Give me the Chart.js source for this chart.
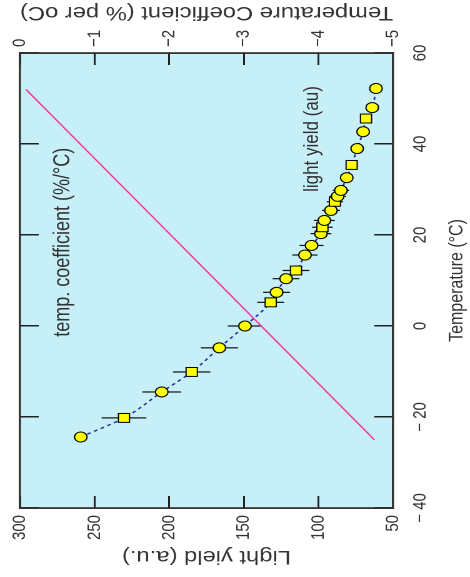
<!DOCTYPE html>
<html>
<head>
<meta charset="utf-8">
<script src="https://cdn.jsdelivr.net/npm/chart.js@4.4.1/dist/chart.umd.min.js"></script>
<style>
  html, body { margin: 0; padding: 0; background: #fff; }
  body { width: 470px; height: 577px; position: relative; overflow: hidden; }
  /* the figure is drawn upright, then turned a quarter turn to the left (and a bit wider) like the scan */
  #wrap {
    position: absolute; left: 0; top: 0;
    width: 577px; height: 376px;
    transform-origin: 0 0;
    transform: matrix(0, -1, 1.25, 0, 0, 577);
  }
</style>
</head>
<body>
<div id="wrap"><canvas id="bieuDo" width="577" height="376"></canvas></div>
<script>
// nhiệt độ (°C) của từng điểm đo
const nhietDo = [-24.4, -20.2, -14.5, -10.1, -4.8, 0.0, 5.2, 7.4, 10.4, 12.2, 15.6, 17.7, 20.3,
    21.7, 23.2, 25.4, 27.3, 28.5, 29.8, 32.6, 35.4, 39.0, 42.7, 45.6, 48.0, 52.2];
// light yield (a.u.)
const lightYield = [259.3, 230.3, 205.0, 184.9, 166.4, 149.2, 132.0, 128.0, 121.7, 115.0, 109.0, 104.6, 98.3,
    97.3, 96.0, 91.6, 88.9, 87.1, 84.9, 81.0, 77.7, 74.0, 70.0, 68.1, 63.9, 61.4];
// sai số (a.u.)
const saiSo = [0, 15, 13, 12.5, 12.5, 11.5, 9, 9, 9, 9, 8.5, 8, 7,
    7, 7, 6, 5.5, 5.5, 5.5, 4.5, 4, 4, 3, 3, 0, 0];
// đường hệ số nhiệt độ (% per °C)
const heSoNhietDo = [-25, 52];
const heSoGiaTri = [-4.75, -0.08];

// tick labels
const tickNhietDo = [-40, -20, 0, 20, 40, 60];
const tickYield = [50, 100, 150, 200, 250, 300];
const tickHeSo = [-5, -4, -3, -2, -1, 0];

// điểm nào vẽ hình vuông
const diemVuong = [1, 3, 6, 9, 13, 16, 20, 23];

const FONT = "'Liberation Sans', Arial, Helvetica, sans-serif";
const MAU_CHU = "#333";
const minus = (v) => "\u2212" + Math.abs(v);

// nền xanh của vùng vẽ
const nenVung = {
    id: "nenVung",
    beforeDraw(chart) {
        const { ctx, chartArea: a } = chart;
        ctx.save();
        ctx.fillStyle = "#c6eff8";
        ctx.fillRect(a.left, a.top, a.width, a.height);
        ctx.restore();
    },
};

// thanh sai số
const thanhSaiSo = {
    id: "thanhSaiSo",
    beforeDatasetsDraw(chart) {
        const { ctx } = chart;
        const sx = chart.scales.x, sy = chart.scales.y;
        ctx.save();
        ctx.strokeStyle = "#111";
        ctx.lineWidth = 1.2;
        nhietDo.forEach((t, i) => {
            if (!saiSo[i]) return;
            const px = sx.getPixelForValue(t);
            ctx.beginPath();
            ctx.moveTo(px, sy.getPixelForValue(lightYield[i] - saiSo[i]));
            ctx.lineTo(px, sy.getPixelForValue(lightYield[i] + saiSo[i]));
            ctx.stroke();
        });
        ctx.restore();
    },
};

// chữ: tên trục phải và hai nhãn trong biểu đồ
const chuThich = {
    id: "chuThich",
    afterDraw(chart) {
        const { ctx, chartArea: a } = chart;
        const sx = chart.scales.x, sy = chart.scales.y;
        ctx.save();
        ctx.fillStyle = MAU_CHU;
        ctx.textAlign = "center";
        ctx.textBaseline = "middle";

        ctx.save();
        ctx.translate(565, (a.top + a.bottom) / 2);
        ctx.rotate(-Math.PI / 2);
        ctx.font = "19px " + FONT;
        ctx.fillText("Temperature Coefficient (% per oC)", 0, 0);
        ctx.restore();

        ctx.font = "17px " + FONT;
        ctx.fillText("light yield (au)", sx.getPixelForValue(41.1), sy.getPixelForValue(104.3));
        ctx.font = "18px " + FONT;
        ctx.fillText("temp. coefficient (%/\u00B0C)", sx.getPixelForValue(18.4), sy.getPixelForValue(271.2));
        ctx.restore();
    },
};

const ve = (s) => ({
    drawOnChartArea: false,
    drawTicks: true,
    tickLength: s,
    color: "#222",
    lineWidth: 1.5,
});
const vien = { display: true, color: "#333", width: 1.8 };
const chuTick = { family: FONT, size: 15 };

const ctx = document.getElementById("bieuDo").getContext("2d");

new Chart(ctx, {
    type: "scatter",
    data: {
        datasets: [
            {
                label: "light yield",
                data: nhietDo.map((t, i) => ({ x: t, y: lightYield[i] })),
                xAxisID: "x",
                yAxisID: "y",
                showLine: true,
                borderColor: "#2d2d9e",
                borderWidth: 1.4,
                borderDash: [3, 3],
                cubicInterpolationMode: "monotone",
                pointStyle: nhietDo.map((t, i) => (diemVuong.includes(i) ? "rect" : "circle")),
                pointRadius: nhietDo.map((t, i) => (diemVuong.includes(i) ? 6.3 : 5)),
                pointBackgroundColor: "#ffff00",
                pointBorderColor: "#000",
                pointBorderWidth: 1,
            },
            {
                label: "temp. coefficient",
                data: heSoNhietDo.map((t, i) => ({ x: t, y: heSoGiaTri[i] })),
                xAxisID: "x",
                yAxisID: "y2",
                showLine: true,
                borderColor: "#f2389c",
                borderWidth: 1.3,
                pointRadius: 0,
            },
        ],
    },
    options: {
        responsive: false,
        maintainAspectRatio: false,
        devicePixelRatio: 2,
        animation: false,
        layout: { padding: 0 },
        plugins: {
            legend: { display: false },
            tooltip: { enabled: false },
        },
        scales: {
            x: {
                type: "linear",
                position: "bottom",
                min: tickNhietDo[0],
                max: tickNhietDo[tickNhietDo.length - 1],
                afterBuildTicks: (s) => { s.ticks = tickNhietDo.map((v) => ({ value: v })); },
                ticks: {
                    padding: 28,
                    color: MAU_CHU,
                    font: chuTick,
                    maxRotation: 0,
                    callback: (v) => (v < 0 ? "\u2212 " + Math.abs(v) : "" + v),
                },
                grid: ve(-15),
                border: vien,
                title: {
                    display: true,
                    text: "Temperature (\u00B0C)",
                    color: MAU_CHU,
                    font: { family: FONT, size: 16 },
                    padding: { top: 0, bottom: 1 },
                },
                afterFit: (s) => { s.height = 61.6; s.paddingLeft = 0; s.paddingRight = 0; },
            },
            x2: {
                type: "linear",
                position: "top",
                min: tickNhietDo[0],
                max: tickNhietDo[tickNhietDo.length - 1],
                afterBuildTicks: (s) => { s.ticks = tickNhietDo.map((v) => ({ value: v })); },
                ticks: { display: false },
                grid: ve(-15),
                border: vien,
                afterFit: (s) => { s.height = 16; s.paddingLeft = 0; s.paddingRight = 0; },
            },
            y: {
                type: "linear",
                position: "left",
                min: tickYield[0],
                max: tickYield[tickYield.length - 1],
                afterBuildTicks: (s) => { s.ticks = tickYield.map((v) => ({ value: v })); },
                ticks: { padding: 19, color: MAU_CHU, font: chuTick },
                grid: ve(-12),
                border: vien,
                title: {
                    display: true,
                    text: "Light yield (a.u.)",
                    color: MAU_CHU,
                    font: { family: FONT, size: 19 },
                    padding: { top: 9.6, bottom: 0 },
                },
                afterFit: (s) => { s.width = 69; s.paddingTop = 0; s.paddingBottom = 0; },
            },
            y2: {
                type: "linear",
                position: "right",
                min: tickHeSo[0],
                max: tickHeSo[tickHeSo.length - 1],
                afterBuildTicks: (s) => { s.ticks = tickHeSo.map((v) => ({ value: v })); },
                ticks: {
                    padding: 18,
                    color: MAU_CHU,
                    font: chuTick,
                    callback: (v) => (v === 0 ? "0" : minus(v)),
                },
                grid: ve(-12),
                border: vien,
                afterFit: (s) => { s.width = 53; s.paddingTop = 0; s.paddingBottom = 0; },
            },
        },
    },
    plugins: [nenVung, thanhSaiSo, chuThich],
});
</script>
</body>
</html>
